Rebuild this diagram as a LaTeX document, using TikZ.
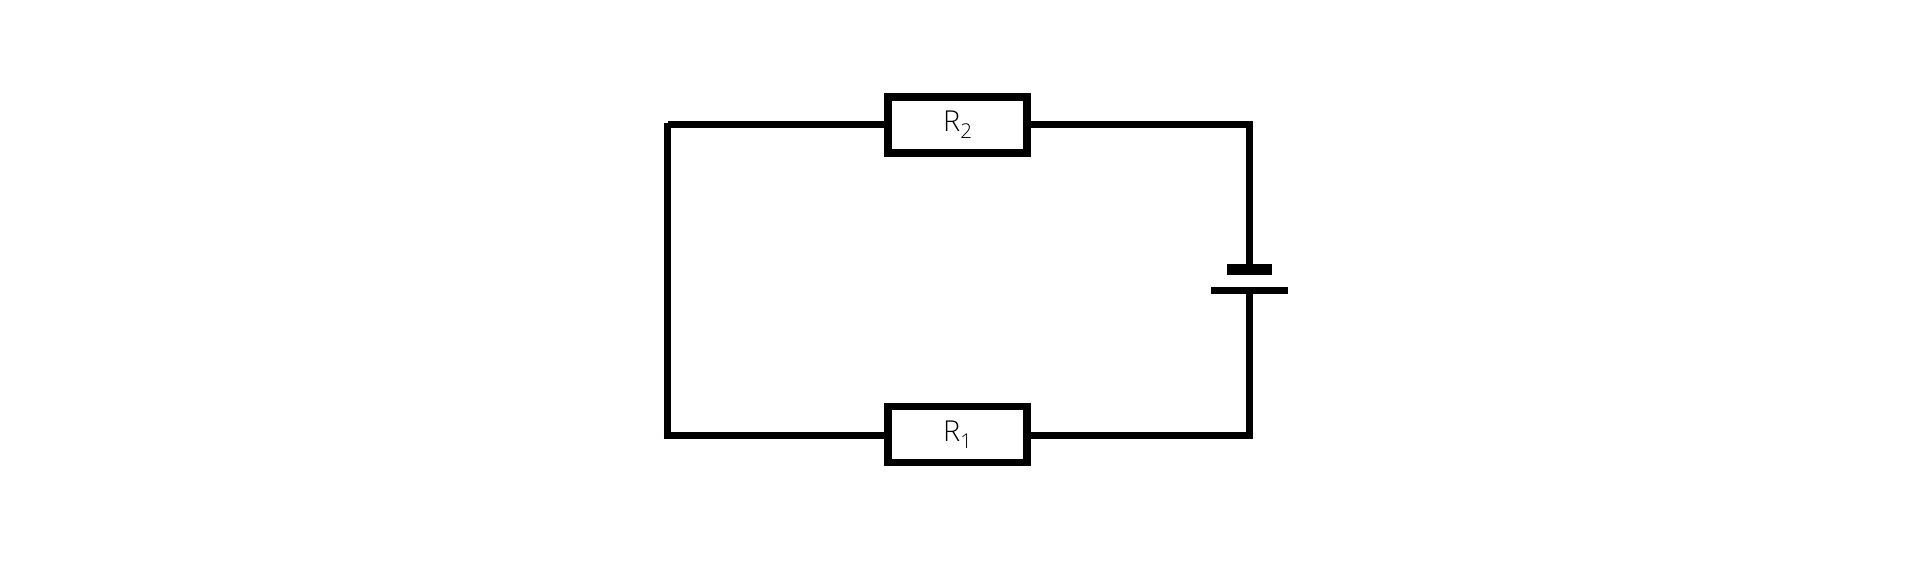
\documentclass[tikz,border=0pt]{standalone}
\usepackage{fontspec}
\setmainfont{Open Sans}[UprightFont=* Light]
\newcommand{\subtext}[1]{\raisebox{-0.25em}{\fontsize{5.8pt}{6pt}\selectfont #1}}
\tikzset{
	wire/.style={line width=2.05pt, line cap=butt, line join=miter},
	resistor/.style={draw, wire, fill=white, minimum width=1.39cm, minimum height=0.56cm, inner sep=0pt, text=black, font=\fontsize{8.2pt}{9pt}\selectfont},
	plate/.style={fill=black, draw=none, inner sep=0pt, outer sep=0pt}
}
\begin{document}
\begin{tikzpicture}[x=0.01cm,y=-0.01cm]
	\useasboundingbox (0,0) rectangle (1920,574);
	\node[resistor] (Rtop) at (957.5,125) {R\subtext{2}};
	\node[resistor] (Rbot) at (957.5,434.5) {R\subtext{1}};
	\node[plate, minimum width=0.45cm, minimum height=0.104cm] (plus) at (1249.3,269.5) {};
	\node[plate, minimum width=0.764cm, minimum height=0.067cm] (minus) at (1249.3,290.3) {};
	\coordinate (tl) at (667.5,124.5);
	\coordinate (bl) at (663.5,435.7);
	\coordinate (tr) at (1249.3,124.5);
	\coordinate (br) at (1249.3,435.7);
	\coordinate (ltop) at (667.5,122.7);
	\coordinate (lbot) at (667.5,433);
	% wires
	\draw[wire] (tl) -- (tl -| Rtop.west);
	\draw[wire] (ltop) -- (lbot);
	\draw[wire] (bl) -- (bl -| Rbot.west);
	\draw[wire] (tr -| Rtop.east) -- (tr) -- (plus.north);
	\draw[wire] (minus.south) -- (br) -- (br -| Rbot.east);
\end{tikzpicture}
\end{document}
